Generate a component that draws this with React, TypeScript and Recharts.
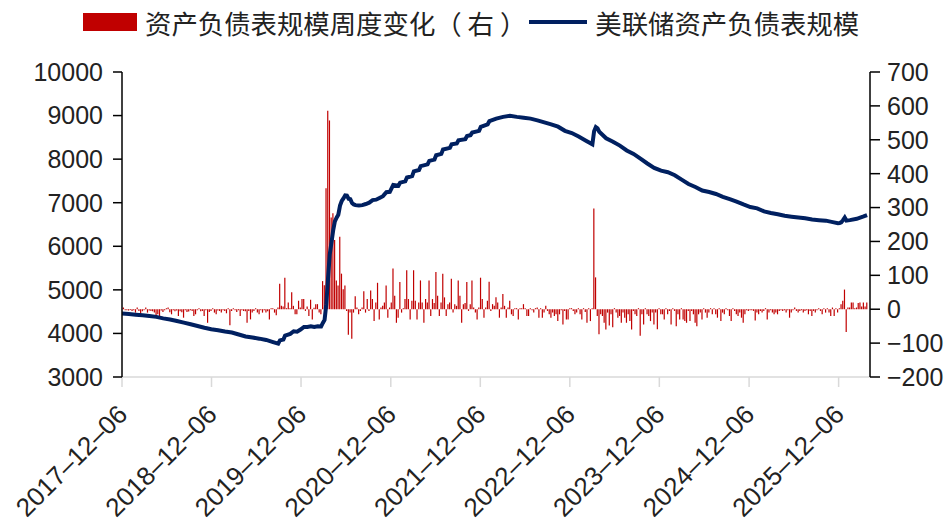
import React from "react"
import { Bar, ComposedChart, Legend, Line, XAxis, YAxis } from "recharts"

const RED = "#C00000"
const NAVY = "#002060"
const FONT = '"Liberation Sans", Arial, Helvetica, sans-serif'
const CJK = '"Noto Sans CJK SC", "Liberation Sans", sans-serif'

const DAY = 86400000
const START = Date.UTC(2017, 11, 6)
const END = START + 3050 * DAY

// x-axis labels (one per year)
const tickDates = [
  "2017-12-06", "2018-12-06", "2019-12-06", "2020-12-06", "2021-12-06",
  "2022-12-06", "2023-12-06", "2024-12-06", "2025-12-06",
]
const leftTicks = [3000, 4000, 5000, 6000, 7000, 8000, 9000, 10000]
const rightTicks = [-200, -100, 0, 100, 200, 300, 400, 500, 600, 700]

// weekly change of the balance sheet (bn USD), one value per Wednesday
// each row runs Dec -> Nov
const change2018 = [2, 5, -3, -3, -4, -2, -5, -3, -10, 5, -5, -15, -6, -3, 5, -10, -4, -5, -6, -10, -20, -15, -20, -4, -8, -3, 3, 5, -9, -15, -3, -6, -4, -20, -6, -9, -25, -3, -8, -7, -3, -5, -20, -15, -3, 3, -6, -5, -20, -3, -40, -8]
const change2019 = [-5, 3, -10, -15, -4, -5, -10, -3, -5, -12, 3, -47, -5, 3, -3, -8, -3, -20, -3, -5, -6, -40, -5, -30, -10, -5, 3, -10, -15, -3, -10, -3, -10, -6, -30, 3, 3, -10, -18, 5, 75, 10, 8, 93, 3, 20, 3, 50, 10, -15, -15, 25]
const change2020 = [5, 30, 30, -5, 8, -20, 28, -30, 4, 15, 15, -10, -15, 83, 71, 357, 586, 557, 271, 283, 204, 85, 70, 214, 105, 59, 70, -5, -75, -10, -87, -10, 38, 5, -15, -5, 5, 53, -10, 30, -5, 55, 30, -35, 20, 78, -30, 5, 10, 20, 70, -25]
const change2021 = [5, 20, 120, 40, -40, -25, 80, -10, 3, 30, 115, 30, -30, 25, 115, 25, -30, 20, 85, 20, -40, 30, 20, 85, -20, 30, 18, 110, 40, -20, 20, 105, 35, -20, 15, 20, 90, -10, 15, 10, 85, 40, -40, 15, 18, 80, -5, 15, 85, 5, -10, -30]
const change2022 = [5, 93, 30, -25, 5, 25, 81, -5, 15, 10, 35, 20, -25, 5, 45, 10, -25, 5, 25, -15, -20, 3, 3, -30, 3, 3, 15, 3, -20, -20, 3, -3, -10, 3, 5, -25, 3, -25, -10, 10, -5, -15, -25, -10, -20, -15, -35, -15, -3, -45, -5, -30]
const change2023 = [-30, 3, 3, -5, -15, -10, 3, -15, -30, 3, -8, -40, 3, -35, 3, 297, 94, -20, -74, -15, -20, -40, -60, -10, -48, -15, -53, 3, -10, -25, -20, -40, -10, -25, -40, -15, -35, -60, -5, -15, -20, 3, -78, -15, -45, 3, -15, -20, -35, -10, -45, -10]
const change2024 = [-59, 3, -15, -15, -30, 3, -15, -5, -45, 3, -5, -50, -15, -30, 3, -30, -35, -40, -5, -35, -5, -15, -40, -50, -15, -10, -30, 3, -10, -25, -10, 3, -15, 3, -15, -25, 3, -35, -10, -15, 3, -3, -20, -35, 3, -5, -15, -20, -10, -25, -40, -15]
const change2025 = [-3, -5, -3, -3, -5, -33, -10, -15, -5, -10, -5, 3, -30, -10, -3, -10, -15, -10, -15, -5, -3, -5, -3, -10, -3, -25, -10, -3, 5, -5, -10, -5, -3, -10, -5, -3, -15, -5, -20, -5, -10, -3, 3, -5, -15, 3, -10, 3, -10, -20, 5, -20]
const change2026 = [3, -10, 3, 15, 25, 58, -67, 5, 5, 20, 20, 3, 5, 18, 20, 8, 20, 8, 20]

const weeklyChange = [
  ...change2018, ...change2019, ...change2020, ...change2021, ...change2022,
  ...change2023, ...change2024, ...change2025, ...change2026,
]

// total assets (bn USD): [week number since 2017-12-06, level]
const levelPoints: [number, number][] = [
  [0, 4458], [4, 4445], [8, 4430], [12, 4415], [16, 4400], [20, 4380], [24, 4345], [28, 4320],
  [32, 4285], [36, 4248], [40, 4210], [44, 4170], [48, 4130], [52, 4095], [56, 4075], [60, 4045],
  [64, 4020], [68, 3975], [72, 3930], [76, 3905], [80, 3880], [84, 3850], [88, 3800], [91, 3765],
  [92, 3840], [94, 3860], [95, 3950], [98, 3990], [100, 4050], [102, 4040], [104, 4090], [106, 4150],
  [108, 4150], [110, 4165], [112, 4150], [114, 4165], [116, 4160], [117, 4240], [118, 4310], [119, 4670],
  [120, 5255], [121, 5810], [122, 6080], [123, 6365], [124, 6570], [125, 6655], [126, 6725], [127, 6935],
  [128, 7040], [129, 7100], [130, 7170], [131, 7165], [132, 7090], [133, 7080], [134, 6993], [135, 6960],
  [136, 6945], [138, 6935], [140, 6945], [142, 6970], [144, 7000], [146, 7060], [148, 7070], [150, 7110],
  [152, 7150], [154, 7240], [156, 7250], [158, 7410], [161, 7390], [162, 7460], [165, 7490], [166, 7580],
  [169, 7610], [170, 7720], [173, 7750], [174, 7840], [178, 7880], [179, 7960], [182, 7990], [183, 8090],
  [186, 8120], [187, 8220], [191, 8260], [192, 8340], [195, 8360], [196, 8430], [200, 8460], [201, 8530],
  [203, 8550], [204, 8610], [208, 8650], [209, 8740], [213, 8800], [214, 8870], [218, 8930], [222, 8970],
  [226, 8995], [230, 8970], [234, 8950], [238, 8930], [242, 8890], [246, 8845], [250, 8800], [254, 8745],
  [258, 8650], [262, 8600], [266, 8520], [270, 8430], [274, 8340], [275, 8640], [276, 8735], [277, 8705],
  [278, 8630], [282, 8480], [286, 8400], [290, 8310], [294, 8200], [298, 8120], [302, 8010], [306, 7900],
  [310, 7800], [314, 7735], [318, 7700], [322, 7630], [326, 7530], [330, 7430], [334, 7360], [338, 7280],
  [342, 7245], [346, 7200], [350, 7135], [354, 7080], [358, 7025], [362, 6960], [366, 6900], [370, 6870],
  [374, 6800], [378, 6765], [382, 6735], [386, 6700], [390, 6680], [394, 6660], [398, 6643], [402, 6615],
  [406, 6600], [410, 6588], [414, 6555], [417, 6528], [418, 6535], [419, 6550], [420, 6600], [421, 6660],
  [422, 6590], [424, 6600], [428, 6630], [432, 6685], [434, 6715],
]

const weekTime = (w: number) => START + w * 7 * DAY
const dateTime = (s: string) => {
  const [y, m, d] = s.split("-").map(Number)
  return Date.UTC(y, m - 1, d)
}

const barRows = weeklyChange.map((change, i) => ({ t: weekTime(i), change }))
const lineRows = levelPoints.map(([w, level]) => ({ t: weekTime(w), level }))
const xTicks = tickDates.map(dateTime)

const fmtDate = (t: number) => {
  const d = new Date(t)
  const mm = String(d.getUTCMonth() + 1).padStart(2, "0")
  const dd = String(d.getUTCDate()).padStart(2, "0")
  return `${d.getUTCFullYear()}\u2013${mm}\u2013${dd}`
}

const DateTick = (props: any) => {
  const { x, y, payload } = props
  return (
    <text
      transform={`translate(${x + 7},${y + 27}) rotate(-45)`}
      textAnchor="end"
      fontSize={26}
      fontFamily={FONT}
      fill="#222"
    >
      {fmtDate(payload.value)}
    </text>
  )
}

const renderLegend = () => (
  <div
    style={{
      display: "flex",
      alignItems: "center",
      height: 44,
      paddingLeft: 83,
      fontFamily: CJK,
      fontSize: 26.4,
      color: "#222",
      whiteSpace: "pre",
    }}
  >
    <span style={{ display: "inline-block", width: 54, height: 18, background: RED, marginRight: 8 }} />
    <span>资产负债表规模周度变化（ 右 ）</span>
    <span style={{ display: "inline-block", width: 58, height: 4, background: NAVY, margin: "0 8px 0 3px" }} />
    <span>美联储资产负债表规模</span>
  </div>
)

export default function App() {
  return (
    <div style={{ position: "absolute", left: 0, top: 0, background: "#fff" }}>
      <ComposedChart
        width={950}
        height={524}
        data={barRows}
        margin={{ top: 28, right: 0, bottom: 0, left: 0 }}
      >
        <Legend
          verticalAlign="top"
          content={renderLegend}
          wrapperStyle={{ top: 0, left: 0, width: 950, height: 44 }}
        />
        <XAxis
          type="number"
          dataKey="t"
          domain={[START, END]}
          ticks={xTicks}
          interval={0}
          allowDataOverflow
          height={147}
          axisLine={{ stroke: "#d9d9d9", strokeWidth: 1.5 }}
          tickLine={{ stroke: "#d9d9d9", strokeWidth: 1.5 }}
          tickSize={10}
          tick={<DateTick />}
        />
        <YAxis
          yAxisId="left"
          domain={[3000, 10000]}
          ticks={leftTicks}
          interval={0}
          width={122}
          axisLine={{ stroke: "#000", strokeWidth: 1.5 }}
          tickLine={{ stroke: "#000", strokeWidth: 1.5 }}
          tickSize={9}
          tickMargin={10}
          tick={{ fontSize: 25, fill: "#222", fontFamily: FONT }}
        />
        <YAxis
          yAxisId="right"
          orientation="right"
          domain={[-200, 700]}
          ticks={rightTicks}
          interval={0}
          width={80}
          axisLine={{ stroke: "#000", strokeWidth: 1.5 }}
          tickLine={{ stroke: "#000", strokeWidth: 1.5 }}
          tickSize={10}
          tickMargin={7}
          tick={{ fontSize: 25, fill: "#222", fontFamily: FONT }}
          tickFormatter={(v: number) => String(v).replace("-", "\u2212")}
        />
        <Bar
          yAxisId="right"
          dataKey="change"
          fill={RED}
          barSize={1.2}
          isAnimationActive={false}
        />
        <Line
          yAxisId="left"
          data={lineRows}
          dataKey="level"
          type="linear"
          stroke={NAVY}
          strokeWidth={4}
          dot={false}
          isAnimationActive={false}
        />
      </ComposedChart>
    </div>
  )
}
